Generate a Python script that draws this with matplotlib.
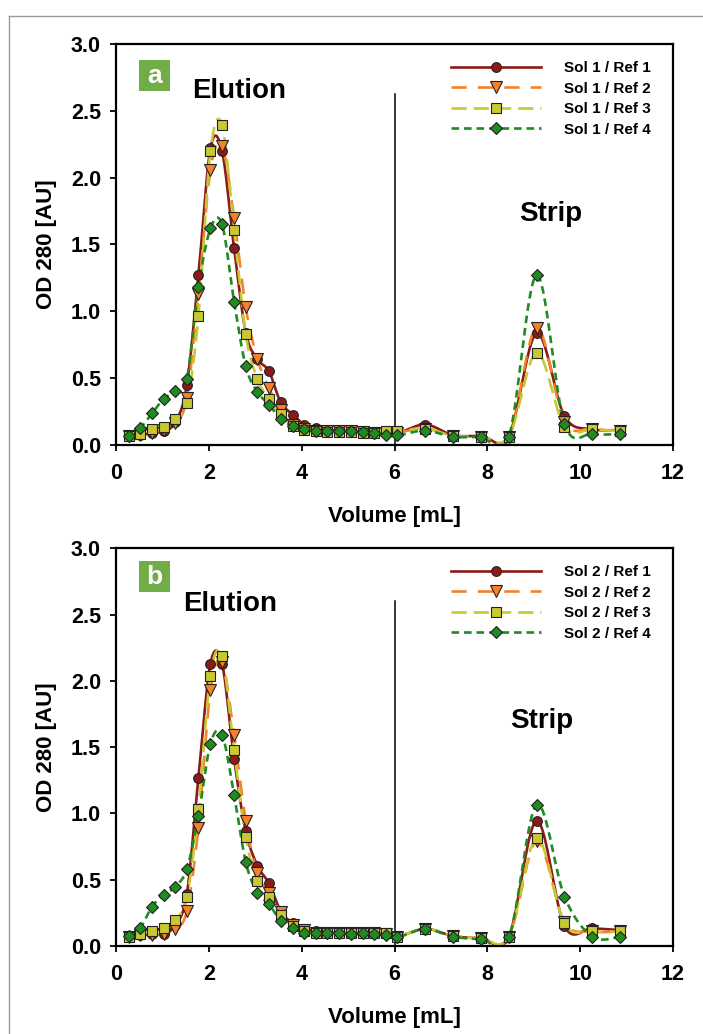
"""OD280 elution / strip profiles, Sol 1 and Sol 2 against four reference resins."""
import numpy as np
import matplotlib; matplotlib.use("Agg"); import matplotlib.pyplot as plt
from matplotlib.lines import Line2D
from matplotlib.patches import Rectangle

plt.rcParams["font.family"] = ["Liberation Sans", "DejaVu Sans"]
plt.rcParams["font.weight"] = "bold"
plt.rcParams["lines.scale_dashes"] = False

# fraction volumes (mL)
vol = [0.27, 0.52, 0.77, 1.02, 1.27, 1.52, 1.77, 2.03, 2.28, 2.54, 2.79, 3.04, 3.29, 3.54, 3.80, 4.05,
       4.30, 4.55, 4.80, 5.05, 5.31, 5.56, 5.81, 6.06, 6.66, 7.26, 7.86, 8.46, 9.06, 9.66, 10.26, 10.86]

a_ref1 = [0.065, 0.075, 0.083, 0.10, 0.167, 0.443, 1.27, 2.22, 2.20, 1.47, 0.84, 0.64, 0.55, 0.32, 0.225, 0.15,
          0.125, 0.11, 0.105, 0.10, 0.10, 0.095, 0.09, 0.085, 0.15, 0.07, 0.065, 0.065, 0.833, 0.213, 0.115, 0.11]
a_ref2 = [0.065, 0.075, 0.09, 0.11, 0.16, 0.35, 1.13, 2.06, 2.24, 1.70, 1.03, 0.643, 0.425, 0.258, 0.15, 0.115,
          0.105, 0.10, 0.10, 0.10, 0.095, 0.09, 0.09, 0.09, 0.12, 0.065, 0.06, 0.06, 0.876, 0.17, 0.12, 0.10]
a_ref3 = [0.065, 0.08, 0.115, 0.135, 0.193, 0.313, 0.96, 2.20, 2.395, 1.607, 0.826, 0.493, 0.338, 0.23, 0.137, 0.11,
          0.10, 0.095, 0.095, 0.095, 0.09, 0.09, 0.10, 0.10, 0.12, 0.065, 0.06, 0.06, 0.688, 0.133, 0.113, 0.10]
a_ref4 = [0.063, 0.125, 0.233, 0.343, 0.398, 0.493, 1.18, 1.62, 1.65, 1.07, 0.588, 0.395, 0.30, 0.195, 0.137, 0.113,
          0.10, 0.098, 0.098, 0.098, 0.093, 0.083, 0.075, 0.068, 0.105, 0.058, 0.058, 0.058, 1.27, 0.155, 0.08, 0.08]

b_ref1 = [0.07, 0.08, 0.088, 0.09, 0.158, 0.39, 1.267, 2.13, 2.13, 1.41, 0.869, 0.607, 0.473, 0.267, 0.171, 0.13,
          0.11, 0.10, 0.10, 0.10, 0.10, 0.10, 0.095, 0.07, 0.13, 0.075, 0.06, 0.07, 0.944, 0.15, 0.134, 0.12]
b_ref2 = [0.07, 0.08, 0.085, 0.09, 0.13, 0.264, 0.893, 1.93, 2.14, 1.59, 0.946, 0.549, 0.398, 0.259, 0.16, 0.12,
          0.10, 0.10, 0.10, 0.10, 0.095, 0.095, 0.09, 0.07, 0.13, 0.075, 0.06, 0.07, 0.79, 0.18, 0.11, 0.11]
b_ref3 = [0.07, 0.087, 0.11, 0.135, 0.199, 0.368, 1.03, 2.04, 2.19, 1.475, 0.821, 0.491, 0.368, 0.232, 0.15, 0.11,
          0.10, 0.10, 0.10, 0.10, 0.10, 0.10, 0.095, 0.07, 0.13, 0.075, 0.06, 0.07, 0.813, 0.171, 0.11, 0.11]
b_ref4 = [0.076, 0.138, 0.297, 0.383, 0.448, 0.58, 0.98, 1.526, 1.594, 1.14, 0.634, 0.403, 0.317, 0.191, 0.134, 0.098,
          0.095, 0.095, 0.095, 0.09, 0.095, 0.09, 0.085, 0.066, 0.128, 0.07, 0.053, 0.065, 1.065, 0.372, 0.07, 0.07]

STYLES = [  # line colour, marker face, marker, size, dash pattern (pt)
    dict(color="#8B1A1A", mfc="#8B1A1A", marker="o", ms=7, ls="-"),
    dict(color="#F5822A", mfc="#F5822A", marker="v", ms=8, ls=(0, (11, 8))),
    dict(color="#C8C832", mfc="#C8C832", marker="s", ms=7, ls=(0, (11, 5))),
    dict(color="#1E8C1E", mfc="#1E8C1E", marker="D", ms=6.5, ls=(0, (5.5, 3.5))),
]


def smooth(x, y, n=24):
    """Catmull-Rom Bezier, roughly Excel's 'smoothed line'."""
    p = np.column_stack([x, y]).astype(float)
    out = []
    for i in range(len(p) - 1):
        p0 = p[i - 1] if i > 0 else p[i]
        p1, p2 = p[i], p[i + 1]
        p3 = p[i + 2] if i + 2 < len(p) else p[i + 1]
        c1, c2 = p1 + (p2 - p0) / 6, p2 - (p3 - p1) / 6
        t = np.linspace(0, 1, n)[:, None]
        out.append((1 - t) ** 3 * p1 + 3 * (1 - t) ** 2 * t * c1 + 3 * (1 - t) * t ** 2 * c2 + t ** 3 * p2)
    out = np.vstack(out)
    return out[:, 0], out[:, 1]


def panel(ax, series, sol, letter, box_y, el_xy, st_xy, vtop):
    for ys, st in zip(series, STYLES):
        sx, sy = smooth(vol, ys)
        ax.plot(sx, sy, color=st["color"], ls=st["ls"], lw=1.9, zorder=2)
    for ys, st in zip(series, STYLES):
        ax.plot(vol, ys, ls="none", marker=st["marker"], ms=st["ms"], mfc=st["mfc"], mec="#222222", mew=0.8, zorder=3)
    ax.plot([6, 6], [0, vtop], color="black", lw=1.1, zorder=1)
    ax.set_xlim(0, 12)
    ax.set_ylim(0, 3)
    ax.set_xticks(range(0, 13, 2))
    ax.set_yticks(np.arange(0, 3.01, 0.5))
    ax.set_yticklabels([f"{v:.1f}" for v in np.arange(0, 3.01, 0.5)])
    ax.tick_params(direction="out", length=4, width=1.3, labelsize=15.5, pad=7)
    ax.tick_params(axis="x", pad=9)
    for s in ax.spines.values():
        s.set_linewidth(1.6)
    ax.set_xlabel("Volume [mL]", fontsize=16, fontweight="bold", labelpad=16)
    ax.set_ylabel("OD 280 [AU]", fontsize=16, fontweight="bold", labelpad=10)
    ax.text(*el_xy, "Elution", fontsize=20, fontweight="bold", ha="center", va="center")
    ax.text(*st_xy, "Strip", fontsize=20, fontweight="bold", ha="center", va="center")
    ax.add_patch(Rectangle((0.041, box_y), 0.056, 0.078, transform=ax.transAxes,
                           facecolor="#70AD47", edgecolor="none", zorder=4))
    ax.text(0.069, box_y + 0.037, letter, transform=ax.transAxes, color="white", fontsize=19,
            fontweight="bold", ha="center", va="center", zorder=5)
    handles = [Line2D([], [], color=st["color"], ls=st["ls"], lw=1.9, marker=st["marker"], ms=st["ms"],
                      mfc=st["mfc"], mec="#222222", mew=0.8) for st in STYLES]
    labels = [f"Sol {sol} / Ref {k}" for k in range(1, 5)]
    ax.legend(handles, labels, loc="upper right", bbox_to_anchor=(0.985, 0.992), frameon=False,
              handlelength=5.9, handletextpad=1.5, labelspacing=0.42,
              prop=dict(weight="bold", size=11))


fig = plt.figure(figsize=(7.03, 10.34), dpi=100)
ax1 = fig.add_axes([0.1654, 0.5701, 0.7920, 0.3869])
ax2 = fig.add_axes([0.1654, 0.0851, 0.7920, 0.3846])
panel(ax1, [a_ref1, a_ref2, a_ref3, a_ref4], 1, "a", 0.884, (2.64, 2.65), (9.36, 1.73), 2.63)
panel(ax2, [b_ref1, b_ref2, b_ref3, b_ref4], 2, "b", 0.890, (2.45, 2.58), (9.16, 1.70), 2.60)

# grey frame of the source screenshot (left and top edges)
fig.add_artist(Line2D([9 / 703, 9 / 703], [0, 1 - 16 / 1034], color="#9a9a9a", lw=1.0))
fig.add_artist(Line2D([9 / 703, 1], [1 - 16 / 1034, 1 - 16 / 1034], color="#9a9a9a", lw=1.0))

fig.savefig("out.png", dpi=100)
